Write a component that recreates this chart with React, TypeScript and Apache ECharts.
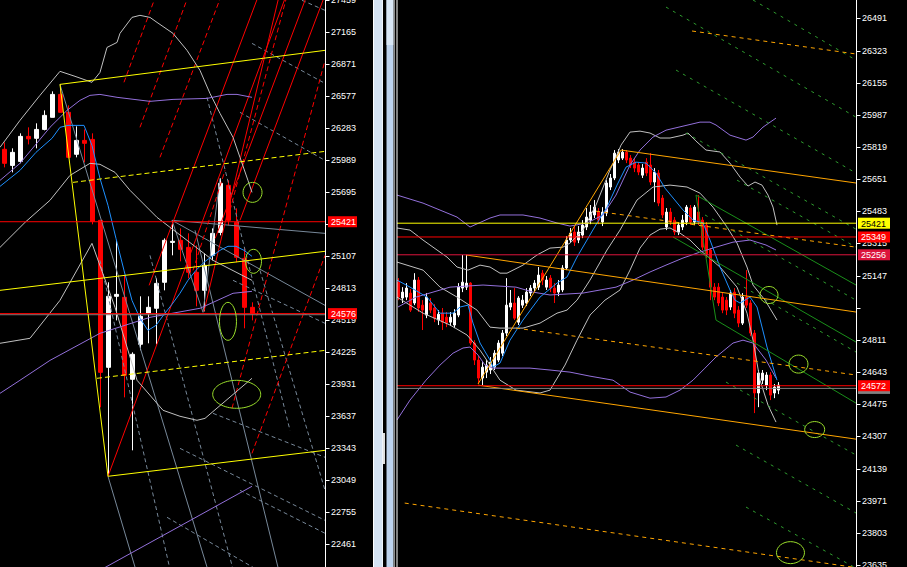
import React, { useEffect, useRef } from "react";
import * as echarts from "echarts";

// ---------------- price axes ----------------
const leftTickValues = [27459, 27165, 26871, 26577, 26283, 25989, 25695, 25401, 25107, 24813, 24519, 24225, 23931, 23637, 23343, 23049, 22755, 22461];
const rightTickValues = [26491, 26323, 26155, 25987, 25819, 25651, 25483, 25315, 25147, 24979, 24811, 24643, 24475, 24307, 24139, 23971, 23803, 23635];
const rightUnlabelled = [24979];

// ---------------- candles: [open, close, low, high] ----------------
const leftCandles = [
  [26087, 25958, 25921, 26151], [25939, 26059, 25875, 26096], [25976, 26206, 25958, 26234], [26206, 26183, 26132, 26289],
  [26188, 26270, 26096, 26326], [26270, 26399, 26261, 26445], [26381, 26592, 26381, 26620], [26592, 26427, 26427, 26684],
  [26427, 26013, 26004, 26491], [26041, 26169, 26013, 26298], [26169, 26142, 25967, 26270], [26178, 25424, 25397, 26234],
  [25434, 24036, 23714, 25434], [24082, 24735, 23089, 24864], [24735, 24753, 24514, 25250], [24726, 24009, 23806, 24928],
  [23972, 24202, 23319, 24220], [24294, 24551, 24239, 24735], [24579, 24634, 24303, 24735], [24625, 24854, 24294, 24900],
  [24864, 25250, 24790, 25268], [25231, 25241, 25112, 25415], [25250, 25167, 25057, 25360], [25185, 24956, 24900, 25314],
  [24956, 24790, 24643, 25204], [24790, 25020, 24597, 25130], [25112, 25314, 25066, 25360], [25323, 25774, 25296, 25820],
  [25756, 25434, 25388, 25802], [25415, 25094, 25048, 25544], [25084, 24634, 24441, 25176], [24634, 24576, 24514, 24680],
];

const rightCandles = [
  [25113, 25035, 25019, 25134], [25030, 25061, 25004, 25087], [25035, 25082, 25019, 25108], [25056, 24967, 24957, 25077],
  [25004, 25124, 24993, 25160], [25124, 24978, 24957, 25140], [24993, 24967, 24863, 25019], [24941, 25035, 24925, 25056],
  [25004, 24967, 24951, 25030], [24978, 24925, 24904, 24998], [24915, 24946, 24889, 24967], [24951, 24904, 24863, 24978],
  [24930, 24899, 24878, 24957], [24904, 24930, 24884, 24957], [24889, 24951, 24873, 24972], [24941, 25087, 24930, 25108],
  [25082, 25113, 25061, 25255], [25087, 25108, 25072, 25255], [25108, 24795, 24784, 25113], [24795, 24706, 24680, 24810],
  [24706, 24612, 24581, 24727], [24612, 24669, 24575, 24695], [24643, 24680, 24612, 24706], [24654, 24695, 24633, 24722],
  [24669, 24742, 24654, 24758], [24706, 24795, 24695, 24810], [24742, 24847, 24727, 24863], [24847, 24993, 24831, 25134],
  [24983, 25004, 24967, 25072], [25004, 24925, 24915, 25082], [24904, 25030, 24889, 25040], [24993, 25019, 24978, 25046],
  [25004, 25061, 24988, 25082], [25056, 25082, 25040, 25098], [25082, 25108, 25066, 25124], [25087, 25150, 25072, 25192],
  [25160, 25124, 25098, 25176], [25087, 25124, 25072, 25145], [25134, 25082, 25061, 25150], [25082, 25056, 25004, 25108],
  [25061, 25098, 25040, 25124], [25072, 25187, 25061, 25202], [25187, 25333, 25176, 25354], [25333, 25369, 25317, 25396],
  [25375, 25322, 25302, 25406], [25333, 25375, 25317, 25406], [25359, 25411, 25343, 25437], [25401, 25453, 25385, 25500],
  [25437, 25479, 25416, 25516], [25464, 25505, 25448, 25542], [25479, 25437, 25416, 25500], [25427, 25479, 25406, 25505],
  [25474, 25631, 25458, 25646], [25610, 25657, 25594, 25678], [25657, 25787, 25646, 25803], [25751, 25792, 25735, 25808],
  [25761, 25792, 25751, 25808], [25792, 25751, 25735, 25803], [25761, 25725, 25709, 25777], [25740, 25709, 25688, 25761],
  [25725, 25688, 25672, 25740], [25672, 25709, 25657, 25730], [25740, 25683, 25667, 25761], [25725, 25636, 25620, 25787],
  [25636, 25688, 25531, 25709], [25683, 25526, 25510, 25699], [25552, 25464, 25448, 25568], [25401, 25479, 25385, 25500],
  [25479, 25427, 25411, 25500], [25437, 25375, 25359, 25453], [25375, 25411, 25359, 25427], [25401, 25437, 25385, 25464],
  [25427, 25505, 25411, 25516], [25500, 25427, 25411, 25516], [25427, 25505, 25411, 25516], [25479, 25427, 25411, 25568],
  [25437, 25296, 25281, 25453], [25411, 25255, 25239, 25427], [25281, 25087, 25019, 25291], [25087, 25035, 25019, 25108],
  [25087, 25004, 24988, 25108], [25035, 24967, 24951, 25056], [25019, 24967, 24941, 25035], [24983, 25056, 24967, 25072],
  [25061, 24951, 24925, 25082], [24967, 24899, 24878, 24988], [24899, 25035, 24889, 25056], [25035, 24993, 24978, 25176],
  [25004, 24847, 24831, 25019], [24847, 24534, 24429, 24863], [24534, 24638, 24460, 24654], [24601, 24638, 24581, 24654],
  [24575, 24628, 24549, 24643], [24628, 24523, 24497, 24643], [24534, 24565, 24507, 24581], [24549, 24575, 24528, 24591],
];

// ---------------- indicators: [barIndex, price] ----------------
const leftMA = [[-0.54, 25746], [1.96, 25893], [3.96, 26059], [5.96, 26188], [6.96, 26289], [7.96, 26307], [9.96, 26307], [10.96, 26123], [11.96, 25820], [12.96, 25572], [13.96, 25268], [14.96, 24974], [15.96, 24698], [16.96, 24533], [17.96, 24422], [18.96, 24468], [19.96, 24569], [20.96, 24661], [21.96, 24763], [22.96, 24882], [23.96, 24974], [24.96, 25048], [25.96, 25103], [26.96, 25158], [27.96, 25195], [28.96, 25195], [29.96, 25158], [30.96, 25103]];
const leftEnvUpper = [[-0.54, 25801], [1.96, 25958], [3.84, 26123], [5.71, 26289], [7.84, 26445], [9.46, 26537], [10.71, 26583], [11.96, 26592], [14.09, 26565], [18.21, 26528], [21.09, 26546], [25.34, 26555], [27.84, 26592], [29.09, 26592], [30.96, 26565]];
const leftEnvLower = [[-0.54, 23843], [1.96, 23963], [5.71, 24146], [11.96, 24395], [18.21, 24542], [24.46, 24625], [28.59, 24763], [30.96, 24781]];
const leftBandUpper = [[-0.54, 26105], [1.96, 26353], [4.46, 26583], [6.96, 26804], [8.84, 26758], [10.96, 26703], [11.96, 26794], [12.84, 27024], [14.09, 27070], [14.46, 27153], [15.96, 27300], [16.96, 27319], [18.21, 27300], [19.09, 27254], [21.09, 27153], [22.84, 26997], [24.46, 26813], [25.71, 26601], [26.96, 26418], [28.59, 26197], [29.46, 26013], [30.46, 25801], [30.96, 25691]];
const leftBandMid = [[-0.54, 25185], [2.59, 25415], [5.71, 25618], [8.21, 25847], [10.71, 25958], [11.96, 25949], [13.84, 25875], [15.71, 25710], [19.09, 25461], [22.84, 25250], [26.09, 25066], [30.96, 24882]];
const leftBandLower = [[-0.54, 24303], [3.21, 24349], [6.96, 24698], [10.96, 25222], [13.84, 24634], [16.59, 23963], [19.84, 23687], [21.96, 23632], [24.09, 23595], [25.09, 23613], [30.96, 23981]];

const rightMA = [[-0.33, 25124], [2.93, 25087], [7.18, 25035], [10.43, 24951], [13.68, 24951], [15.43, 24983], [17.43, 24993], [18.68, 24899], [20.43, 24795], [22.93, 24706], [23.68, 24669], [25.43, 24690], [27.93, 24810], [31.18, 24915], [35.43, 25035], [39.68, 25108], [42.18, 25140], [44.68, 25244], [47.18, 25333], [49.68, 25422], [52.18, 25505], [54.68, 25620], [56.93, 25714], [59.43, 25740], [61.93, 25735], [64.43, 25683], [66.68, 25604], [71.18, 25490], [73.68, 25437], [76.18, 25422], [77.93, 25333], [80.43, 25192], [82.93, 25072], [84.18, 25019], [85.43, 25004], [87.93, 25035], [89.68, 24983], [92.18, 24774], [94.68, 24601]];
const rightEnvUpper = [[-0.33, 25568], [6.18, 25526], [14.68, 25453], [17.93, 25401], [22.93, 25448], [25.43, 25464], [31.18, 25464], [35.43, 25448], [39.68, 25422], [42.93, 25406], [47.18, 25422], [51.18, 25464], [54.43, 25568], [57.93, 25725], [60.43, 25803], [63.68, 25871], [66.93, 25907], [71.18, 25928], [75.43, 25949], [77.93, 25949], [79.43, 25934], [82.93, 25881], [86.93, 25855], [88.68, 25871], [91.18, 25923], [94.43, 25970]];
const rightEnvMid = [[-0.08, 24983], [4.43, 25035], [12.93, 25087], [21.18, 25098], [29.43, 25087], [33.68, 25061], [37.93, 25046], [46.18, 25056], [54.43, 25087], [58.68, 25124], [62.93, 25166], [66.93, 25202], [71.18, 25239], [75.43, 25270], [79.43, 25296], [83.68, 25322], [87.93, 25333], [91.93, 25307], [94.43, 25281]];
const rightEnvLower = [[-0.33, 24393], [2.93, 24497], [6.93, 24601], [10.43, 24680], [13.68, 24742], [16.18, 24769], [17.93, 24774], [19.93, 24732], [21.68, 24680], [23.68, 24664], [27.93, 24664], [32.93, 24664], [37.93, 24654], [42.93, 24643], [47.93, 24622], [53.68, 24601], [57.93, 24539], [62.93, 24507], [66.93, 24513], [70.43, 24549], [73.68, 24601], [76.68, 24664], [79.43, 24722], [83.68, 24795], [86.18, 24810], [88.68, 24795], [91.93, 24706], [94.43, 24612]];
const rightBandUpper = [[-0.33, 25396], [2.93, 25385], [6.18, 25333], [9.68, 25281], [12.18, 25244], [14.68, 25192], [17.43, 25176], [20.43, 25202], [22.93, 25192], [25.43, 25160], [27.18, 25160], [31.18, 25202], [34.68, 25255], [37.93, 25291], [41.18, 25296], [42.93, 25317], [46.18, 25385], [49.43, 25516], [52.93, 25699], [54.43, 25766], [55.68, 25829], [57.93, 25897], [60.43, 25902], [62.93, 25892], [65.43, 25866], [67.93, 25866], [71.18, 25881], [72.43, 25892], [74.43, 25850], [76.93, 25803], [80.43, 25793], [82.93, 25735], [85.43, 25662], [87.43, 25615], [89.18, 25636], [90.93, 25620], [92.43, 25568], [93.68, 25505], [94.68, 25411]];
const rightBandMid = [[-0.33, 25218], [6.18, 25176], [10.43, 25087], [14.68, 25035], [19.68, 24967], [22.93, 24878], [25.43, 24873], [31.18, 24873], [35.43, 24899], [39.68, 24951], [42.18, 24967], [44.68, 25019], [47.93, 25124], [52.18, 25281], [55.43, 25385], [59.68, 25542], [63.68, 25610], [67.93, 25620], [72.18, 25610], [75.43, 25578], [78.68, 25505], [82.18, 25401], [84.68, 25317], [87.18, 25192], [88.68, 25098], [91.68, 25019], [94.68, 24915]];
const rightBandLower = [[-0.33, 25035], [6.18, 24951], [12.93, 24889], [17.18, 24837], [20.43, 24758], [22.93, 24680], [25.43, 24601], [29.43, 24549], [35.43, 24534], [37.93, 24549], [41.68, 24680], [44.68, 24810], [47.93, 24941], [51.68, 25019], [55.43, 25072], [57.93, 25176], [60.43, 25291], [62.93, 25359], [65.43, 25390], [67.93, 25396], [70.43, 25369], [72.93, 25333], [75.43, 25281], [80.43, 25192], [84.68, 25087], [87.18, 24951], [88.68, 24810], [90.43, 24601], [92.43, 24471], [94.43, 24382]];

// ---------------- drawn trend lines: [[barIndex, price], [barIndex, price]] ----------------
const leftYellowSolid = [
  [[6.96, 26684], [12.96, 23080]], [[12.96, 23080], [40.09, 23319]],
  [[6.96, 26684], [40.09, 26997]], [[-0.54, 24790], [40.09, 25149]],
];
const leftYellowDashed = [[[8.59, 25783], [40.09, 26068]], [[11.59, 23981], [40.09, 24238]]];
const leftRedSolid = [
  [[12.96, 23080], [35.92, 27640]], [[18.1, 24836], [32.49, 27640]], [[24.96, 24597], [34.81, 27640]],
  [[26.36, 25268], [38.53, 27640]], [[29.46, 25434], [40.77, 27640]],
];
const leftRedDashed = [
  [[14.96, 26703], [19.64, 27640]], [[16.96, 26289], [23.71, 27640]], [[19.46, 26013], [27.84, 27640]],
  [[28.46, 23705], [40.09, 26905]], [[30.96, 23291], [40.09, 25112]], [[28.21, 25526], [35.84, 27640]],
  [[23.59, 24974], [27.59, 25893]],
];
const leftSlateSolid = [
  [[6.96, 26684], [25.84, 22124]], [[20.96, 25434], [40.09, 24652]], [[20.96, 25434], [40.09, 25314]],
  [[20.96, 25434], [24.84, 24588]], [[24.84, 24588], [26.96, 25820]], [[23.84, 25342], [34.61, 22124]],
  [[12.96, 23080], [16.83, 22124]],
];
const leftSlateDashed = [
  [[30.96, 27061], [40.09, 26693]], [[29.46, 26427], [40.09, 25985]], [[37.21, 27457], [40.09, 27365]],
  [[25.34, 26565], [35.71, 23503]], [[11.96, 25066], [20.71, 22225]], [[18.21, 25112], [28.59, 22225]],
  [[31.96, 24974], [40.09, 22951]], [[21.96, 23337], [40.09, 22675]], [[20.34, 22703], [31.09, 22243]],
  [[26.09, 23659], [40.09, 23255]], [[29.46, 22951], [40.09, 22556]], [[28.59, 24882], [40.09, 24487]],
];
const leftPurpleTrend = [[[11.96, 22216], [30.96, 22988]]];

const rightOrangeSolid = [
  [[19.93, 24581], [55.68, 25803]], [[55.68, 25803], [114.43, 25631]],
  [[16.93, 25255], [114.43, 24957]], [[19.93, 24575], [114.43, 24293]],
];
const rightOrangeDashed = [
  [[73.43, 26425], [114.43, 26305]], [[49.43, 25484], [114.43, 25296]],
  [[29.43, 24873], [114.43, 24628]], [[1.6, 23959], [114.43, 23622]],
];
const rightGreenSolid = [
  [[74.43, 25568], [114.43, 25098]], [[68.68, 25349], [114.43, 24800]],
  [[79.43, 24915], [114.43, 24481]], [[74.43, 25568], [79.43, 24915]],
];
const rightGreenDashed = [
  [[66.93, 26550], [114.43, 25975]], [[88.68, 26587], [114.43, 26273]], [[69.43, 26221], [114.43, 25683]],
  [[71.93, 25892], [114.43, 25390]], [[76.68, 25464], [114.43, 25019]], [[84.68, 25108], [114.43, 24748]],
  [[81.93, 24591], [114.43, 24210]], [[84.43, 24262], [114.43, 23907]], [[86.93, 23938], [114.43, 23619]],
  [[84.68, 25646], [114.43, 25296]],
];

// ---------------- horizontal levels ----------------
const leftRedLevels = [25421, 24576];
const leftGreyLevels = [24566];
const rightYellowLevels = [25421];
const rightRedLevels = [25349, 24572];
const rightCrimsonLevels = [25256];
const rightGreyLevels = [24558];

// ---------------- ellipse marks (centre: [barIndex, price]) ----------------
const leftMarks = [[31.03, 25691], [31.15, 25057], [27.96, 24505], [29.05, 23834]];
const rightMarks = [[92.68, 25046], [100.05, 24685], [104.1, 24343], [98.05, 23700]];

export default function App() {
  const ref = useRef<HTMLDivElement>(null);
  useEffect(() => {
    if (!ref.current) return;
    const chart = echarts.init(ref.current, undefined, { renderer: "svg" });
    const LX = [-0.5375, 40.0875];
    const RX = [-0.325, 114.43];
    const LY = [22246, 27460];
    const RY = [23625, 26587];
    const FONT = "Liberation Sans";
    const series: any[] = [];

    const line = (ax: number, pts: number[][], color: string, type: any, z = 3, width = 1) =>
      series.push({
        type: "line", xAxisIndex: ax, yAxisIndex: ax, data: pts, symbol: "none", showSymbol: false,
        silent: true, clip: true, z, animation: false, lineStyle: { color, width, type },
      });
    const segs = (ax: number, list: number[][][], color: string, type: any, z = 3) =>
      list.forEach((p) => line(ax, p, color, type, z));
    const levels = (ax: number, vals: number[], color: string, z = 3) => {
      const xr = ax === 0 ? LX : RX;
      vals.forEach((v) => line(ax, [[xr[0], v], [xr[1], v]], color, "solid", z));
    };
    const candles = (ax: number, rows: number[][], bw: number) =>
      series.push({
        type: "candlestick", xAxisIndex: ax, yAxisIndex: ax, silent: true, z: 2, barWidth: bw,
        data: rows.map((r, i) => [i, r[0], r[1], r[2], r[3]]),
        itemStyle: { color: "#ffffff", color0: "#ff0000", borderColor: "#ffffff", borderColor0: "#ff0000", borderWidth: 1 },
      });

    const GREY = "#c0c0c0", SLATE = "#778899", PURPLE = "#9370db", BLUE = "#1e90ff";
    const D_RED: number[] = [5, 3], D_SL: number[] = [4, 3], D_OR: number[] = [4, 4], D_GR: number[] = [3, 5];

    // left panel
    candles(0, leftCandles, 4);
    segs(0, leftSlateDashed, SLATE, D_SL);
    segs(0, leftSlateSolid, SLATE, "solid");
    segs(0, leftRedDashed, "#ff0000", D_RED);
    segs(0, leftRedSolid, "#ff0000", "solid");
    segs(0, leftPurpleTrend, PURPLE, "solid");
    [leftBandUpper, leftBandMid, leftBandLower].forEach((d) => line(0, d, GREY, "solid"));
    [leftEnvUpper, leftEnvLower].forEach((d) => line(0, d, PURPLE, "solid"));
    line(0, leftMA, BLUE, "solid");
    segs(0, leftYellowDashed, "#ffff00", D_RED, 4);
    segs(0, leftYellowSolid, "#ffff00", "solid", 4);
    levels(0, leftGreyLevels, "#808080");
    levels(0, leftRedLevels, "#ff0000", 4);

    // right panel
    candles(1, rightCandles, 2);
    [rightBandUpper, rightBandMid, rightBandLower].forEach((d) => line(1, d, GREY, "solid"));
    [rightEnvUpper, rightEnvMid, rightEnvLower].forEach((d) => line(1, d, PURPLE, "solid"));
    line(1, rightMA, BLUE, "solid");
    segs(1, rightGreenDashed, "#2e9b2e", D_GR);
    segs(1, rightGreenSolid, "#1a8f1a", "solid");
    segs(1, rightOrangeDashed, "#ffa500", D_OR);
    segs(1, rightOrangeSolid, "#ffa500", "solid");
    levels(1, rightGreyLevels, "#808080");
    levels(1, rightCrimsonLevels, "#dc143c");
    levels(1, rightRedLevels, "#ff0000");
    levels(1, rightYellowLevels, "#ffff00");

    const yAxis = (gi: number, range: number[], labels: number[]) => ({
      type: "value", gridIndex: gi, position: "right", min: range[0], max: range[1],
      axisLine: { show: true, onZero: false, lineStyle: { color: "#ffffff", width: 1 } },
      axisTick: { show: false },
      axisLabel: { show: true, color: "#ffffff", fontSize: 9, fontFamily: FONT, margin: 6, customValues: labels, formatter: (v: number) => String(v) },
      splitLine: { show: false },
    });

    chart.setOption({
      animation: false,
      backgroundColor: "#000000",
      grid: [
        { left: 0, top: 0, width: 325, height: 567, outerBoundsMode: "none", containLabel: false },
        { left: 397, top: 0, width: 459, height: 567, outerBoundsMode: "none", containLabel: false },
      ],
      xAxis: [
        { type: "value", gridIndex: 0, min: LX[0], max: LX[1], show: false, axisLine: { onZero: false } },
        { type: "value", gridIndex: 1, min: RX[0], max: RX[1], show: false, axisLine: { onZero: false } },
      ],
      yAxis: [
        yAxis(0, LY, leftTickValues),
        yAxis(1, RY, rightTickValues.filter((v) => rightUnlabelled.indexOf(v) < 0)),
      ],
      series,
    });

    const g: any[] = [];
    const rect = (x: number, y: number, w: number, h: number, fill: string, z = 50) =>
      g.push({ type: "rect", shape: { x, y, width: w, height: h }, style: { fill }, z, silent: true });
    // window separators
    rect(372, 0, 24.5, 567, "#000000", 40);
    rect(373, 0, 1, 567, "#ffffff");
    rect(374, 0, 8, 567, "#d5e3f3");
    rect(382, 0, 1, 567, "#eef4fb");
    rect(386.5, 0, 7, 567, "#bdd3ee");
    rect(386.5, 0, 7, 45, "#d9e7f6");
    rect(393.5, 0, 1.5, 567, "#8c8c8c");
    rect(396.5, 0, 1, 567, "#ffffff");
    rect(383, 433, 2, 31, "#e0e0e0");

    const yPix = (ax: number, v: number) => chart.convertToPixel({ yAxisIndex: ax } as any, v) as unknown as number;
    // axis ticks
    const ticks = (ax: number, vals: number[], x: number) =>
      vals.forEach((v) => {
        const y = Math.round(yPix(ax, v)) + 0.5;
        g.push({ type: "line", z: 45, silent: true, shape: { x1: x, y1: y, x2: x + 4, y2: y }, style: { stroke: "#ffffff", lineWidth: 1 } });
      });
    ticks(0, leftTickValues, 325.5);
    ticks(1, rightTickValues, 856.5);

    const tag = (ax: number, v: number, bg: string, fg: string) => {
      const y = yPix(ax, v);
      const x0 = ax === 0 ? 328 : 858;
      const w = ax === 0 ? 29 : 32;
      rect(x0, y - 5.5, w, 11, bg, 60);
      g.push({
        type: "text", z: 61, silent: true,
        style: { text: String(v), x: x0 + 3, y: y + 0.5, fill: fg, font: `9px "${FONT}"`, align: "left", verticalAlign: "middle" },
      });
    };
    leftRedLevels.forEach((v) => tag(0, v, "#ff0000", "#ffffff"));
    rightGreyLevels.forEach((v) => {
      const y = yPix(1, v);
      rect(858, y - 5.5, 32, 11, "#808080", 59);
    });
    rightYellowLevels.forEach((v) => tag(1, v, "#ffff00", "#000000"));
    rightRedLevels.forEach((v) => tag(1, v, "#ff0000", "#ffffff"));
    rightCrimsonLevels.forEach((v) => tag(1, v, "#dc143c", "#ffffff"));

    const leftR = [[9.5, 10], [8, 12], [8.5, 19], [24, 14]];
    const rightR = [[9, 8.5], [9.5, 9], [10, 8], [14, 11]];
    const ell = (gi: number, c: number[], r: number[]) => {
      const p = chart.convertToPixel({ gridIndex: gi } as any, c) as unknown as number[];
      g.push({ type: "ellipse", z: 55, silent: true, shape: { cx: p[0], cy: p[1], rx: r[0], ry: r[1] }, style: { fill: "none", stroke: "#9ade2b", lineWidth: 1 } });
    };
    leftMarks.forEach((c, i) => ell(0, c, leftR[i]));
    rightMarks.forEach((c, i) => ell(1, c, rightR[i]));

    chart.setOption({ graphic: g });
    return () => chart.dispose();
  }, []);
  return <div ref={ref} style={{ position: "absolute", left: 0, top: 0, width: 907, height: 567, background: "#000" }} />;
}
